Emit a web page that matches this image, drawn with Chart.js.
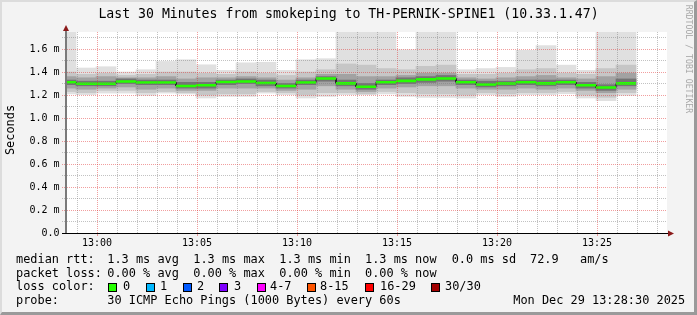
<!DOCTYPE html>
<html>
<head>
<meta charset="utf-8">
<title>smokeping TH-PERNIK-SPINE1</title>
<script src="https://cdn.jsdelivr.net/npm/chart.js@4.4.1/dist/chart.umd.min.js"></script>
<style>
  body { margin: 0; background: #f3f3f3; }
  #graph { position: relative; width: 697px; height: 315px; background: #f3f3f3; overflow: hidden;
           font-family: "DejaVu Sans Mono", monospace; color: #000; }
  #graph canvas { position: absolute; left: 0; top: 0; }
  .frame { position: absolute; left: 0; top: 0; width: 697px; height: 315px; box-sizing: border-box;
           border-style: solid; border-width: 2px 3px 3px 2px; border-color: #dcdcdc #9a9a9a #9a9a9a #dcdcdc; }
  .txt { position: absolute; white-space: pre; font-size: 11.9px; line-height: 14px; }
  .box { position: absolute; width: 9px; height: 9px; box-sizing: border-box; border: 1px solid #000; top: 282.5px; }
  #title { position: absolute; left: 0; top: 5.7px; width: 697px; text-align: center; font-size: 13.2px; line-height: 16px; white-space: pre; }
  #ylab { position: absolute; left: -30px; top: 123px; width: 80px; text-align: center; font-size: 11.9px; line-height: 14px; transform: rotate(-90deg); }
  #wm { position: absolute; left: 629px; top: 54px; width: 120px; text-align: center; font-size: 8.2px; line-height: 10px; color: #a8a8a8; transform: rotate(90deg); white-space: pre; }
</style>
</head>
<body>
<div id="graph">
  <canvas id="smoke" width="697" height="315"></canvas>
  <div id="title">Last 30 Minutes from smokeping to TH-PERNIK-SPINE1 (10.33.1.47)</div>
  <div id="ylab">Seconds</div>
  <div id="wm">RRDTOOL / TOBI OETIKER</div>

  <span class="txt" style="left:16px;top:252.2px">median rtt:</span>
  <span class="txt" style="left:107.3px;top:252.2px">1.3 ms avg</span>
  <span class="txt" style="left:193.3px;top:252.2px">1.3 ms max</span>
  <span class="txt" style="left:279.3px;top:252.2px">1.3 ms min</span>
  <span class="txt" style="left:365px;top:252.2px">1.3 ms now</span>
  <span class="txt" style="left:451.7px;top:252.2px">0.0 ms sd</span>
  <span class="txt" style="left:530px;top:252.2px">72.9</span>
  <span class="txt" style="left:580px;top:252.2px">am/s</span>

  <span class="txt" style="left:16px;top:265.8px">packet loss:</span>
  <span class="txt" style="left:107.3px;top:265.8px">0.00 % avg</span>
  <span class="txt" style="left:193.3px;top:265.8px">0.00 % max</span>
  <span class="txt" style="left:279.3px;top:265.8px">0.00 % min</span>
  <span class="txt" style="left:365px;top:265.8px">0.00 % now</span>

  <span class="txt" style="left:16px;top:279.4px">loss color:</span>
  <span class="box" style="left:108.3px;background:#26ff00"></span><span class="txt" style="left:123px;top:279.4px">0</span>
  <span class="box" style="left:145.7px;background:#00b8ff"></span><span class="txt" style="left:160px;top:279.4px">1</span>
  <span class="box" style="left:182.7px;background:#0059ff"></span><span class="txt" style="left:197px;top:279.4px">2</span>
  <span class="box" style="left:219.3px;background:#7e00ff"></span><span class="txt" style="left:234px;top:279.4px">3</span>
  <span class="box" style="left:256.7px;background:#ff00ff"></span><span class="txt" style="left:270px;top:279.4px">4-7</span>
  <span class="box" style="left:307.3px;background:#ff5500"></span><span class="txt" style="left:320px;top:279.4px">8-15</span>
  <span class="box" style="left:365px;background:#ff0000"></span><span class="txt" style="left:380px;top:279.4px">16-29</span>
  <span class="box" style="left:430.7px;background:#a10000"></span><span class="txt" style="left:445px;top:279.4px">30/30</span>

  <span class="txt" style="left:16px;top:293px">probe:</span>
  <span class="txt" style="left:107.3px;top:293px">30 ICMP Echo Pings (1000 Bytes) every 60s</span>
  <span class="txt" style="left:513.3px;top:293px">Mon Dec 29 13:28:30 2025</span>

  <div class="frame"></div>
</div>
<script>
// one sample per minute, values in ms
const medianRtt = [1.311, 1.298, 1.298, 1.317, 1.309, 1.309, 1.279, 1.285, 1.313, 1.318, 1.304, 1.279, 1.309, 1.344, 1.301,
                   1.272, 1.311, 1.323, 1.336, 1.343, 1.311, 1.292, 1.300, 1.311, 1.301, 1.311, 1.285, 1.265, 1.301];
const maxRtt = [1.80, 1.435, 1.446, 1.400, 1.420, 1.492, 1.507, 1.463, 1.414, 1.480, 1.485, 1.414, 1.507, 1.516, 1.80,
                1.80, 1.80, 1.594, 1.80, 1.80, 1.420, 1.430, 1.440, 1.588, 1.630, 1.460, 1.414, 1.80, 1.80];
const p90Rtt = [1.40, 1.38, 1.39, 1.37, 1.38, 1.40, 1.40, 1.39, 1.38, 1.40, 1.39, 1.37, 1.40, 1.42, 1.47,
                1.46, 1.43, 1.42, 1.45, 1.46, 1.38, 1.38, 1.39, 1.42, 1.43, 1.39, 1.38, 1.43, 1.46];
const p75Rtt = [1.36, 1.35, 1.36, 1.35, 1.35, 1.36, 1.34, 1.35, 1.35, 1.36, 1.35, 1.33, 1.35, 1.38, 1.38,
                1.36, 1.36, 1.37, 1.39, 1.39, 1.35, 1.34, 1.35, 1.36, 1.37, 1.35, 1.34, 1.36, 1.39];
const p60Rtt = [1.33, 1.32, 1.32, 1.34, 1.33, 1.33, 1.31, 1.31, 1.33, 1.34, 1.33, 1.30, 1.33, 1.36, 1.33,
                1.30, 1.33, 1.35, 1.36, 1.37, 1.33, 1.32, 1.32, 1.33, 1.33, 1.33, 1.31, 1.29, 1.34];
const p40Rtt = [1.29, 1.28, 1.28, 1.30, 1.29, 1.29, 1.26, 1.26, 1.29, 1.30, 1.28, 1.26, 1.29, 1.32, 1.28,
                1.25, 1.29, 1.30, 1.31, 1.32, 1.29, 1.27, 1.28, 1.29, 1.28, 1.29, 1.26, 1.24, 1.28];
const p25Rtt = [1.26, 1.25, 1.26, 1.27, 1.25, 1.26, 1.24, 1.24, 1.26, 1.26, 1.26, 1.24, 1.25, 1.28, 1.25,
                1.23, 1.26, 1.27, 1.28, 1.28, 1.26, 1.25, 1.25, 1.26, 1.25, 1.26, 1.24, 1.22, 1.25];
const p10Rtt = [1.23, 1.22, 1.24, 1.24, 1.22, 1.23, 1.22, 1.20, 1.21, 1.21, 1.23, 1.22, 1.20, 1.22, 1.22,
                1.21, 1.23, 1.22, 1.21, 1.21, 1.20, 1.22, 1.21, 1.22, 1.22, 1.23, 1.20, 1.18, 1.22];
const minRtt = [1.210, 1.203, 1.217, 1.217, 1.197, 1.217, 1.209, 1.174, 1.188, 1.188, 1.217, 1.203, 1.174, 1.188, 1.203,
                1.203, 1.209, 1.188, 1.180, 1.180, 1.174, 1.203, 1.188, 1.203, 1.203, 1.211, 1.174, 1.150, 1.197];

const yTicks = [0, 0.1, 0.2, 0.3, 0.4, 0.5, 0.6, 0.7, 0.8, 0.9, 1.0, 1.1, 1.2, 1.3, 1.4, 1.5, 1.6, 1.7];

// x is minutes after 12:58:30 (left edge of the graph); first step ends at 12:58:57
const firstStepEnd = 0.45;
const stepEnd = medianRtt.map((_, i) => firstStepEnd + i);
const minuteTicks = [];
for (let m = 0; m < 30; m++) minuteTicks.push(m + 0.5);   // 12:59 ... 13:28

const majorGrid = 'rgba(225,40,40,0.45)';
const minorGrid = 'rgba(120,120,120,0.45)';

function isMajorX(v) { return Math.round(v - 0.5) % 5 === 1; }
function isMajorY(v) { return Math.round(v * 10) % 2 === 0; }
function xLabel(v) {
  const t = 12 * 60 + 59 + Math.round(v - 0.5);
  if (t % 5) return '';
  return String(Math.floor(t / 60)).padStart(2, '0') + ':' + String(t % 60).padStart(2, '0');
}

function smoke(lo, hi, color, order) {
  return {
    type: 'bar', order: order, backgroundColor: color, borderWidth: 0,
    grouped: false, categoryPercentage: 1, barPercentage: 1,
    data: stepEnd.map((x, i) => ({ x: x - 0.5, y: [lo[i], hi[i]] }))
  };
}
function steps(vals) {
  const pts = [];
  vals.forEach((v, i) => { pts.push({ x: stepEnd[i] - 1, y: v }, { x: stepEnd[i], y: v }); });
  return pts;
}
function pieces(vals) {
  const pts = [];
  vals.forEach((v, i) => { pts.push({ x: stepEnd[i] - 1, y: v }, { x: stepEnd[i], y: v }, { x: stepEnd[i], y: null }); });
  return pts;
}

const plotBackground = {
  id: 'plotBackground',
  beforeDraw(chart) {
    const { ctx, chartArea: a } = chart;
    ctx.save();
    ctx.fillStyle = '#ffffff';
    ctx.fillRect(a.left, a.top, a.right - a.left, a.bottom - a.top);
    ctx.restore();
  }
};

const axisArrows = {
  id: 'axisArrows',
  afterDraw(chart) {
    const { ctx, chartArea: a } = chart;
    ctx.save();
    ctx.lineWidth = 2;
    ctx.strokeStyle = '#7a7a7a';
    ctx.beginPath(); ctx.moveTo(a.left - 1, a.bottom); ctx.lineTo(a.left - 1, a.top - 3); ctx.stroke();
    ctx.lineWidth = 1;
    ctx.strokeStyle = '#000';
    ctx.beginPath(); ctx.moveTo(a.left - 5, a.bottom + 0.5); ctx.lineTo(a.right + 3, a.bottom + 0.5); ctx.stroke();
    ctx.fillStyle = '#8b1a1a';
    ctx.beginPath();
    ctx.moveTo(a.left - 4, a.top - 1); ctx.lineTo(a.left + 2, a.top - 1); ctx.lineTo(a.left - 1, a.top - 7);
    ctx.closePath(); ctx.fill();
    ctx.beginPath();
    ctx.moveTo(a.right + 1, a.bottom - 2.5); ctx.lineTo(a.right + 1, a.bottom + 3.5); ctx.lineTo(a.right + 7, a.bottom + 0.5);
    ctx.closePath(); ctx.fill();
    ctx.restore();
  }
};

new Chart(document.getElementById('smoke'), {
  type: 'bar',
  data: {
    datasets: [
      smoke(minRtt, maxRtt, '#e0e0e0', 10),
      smoke(p10Rtt, p90Rtt, '#c6c6c6', 9),
      smoke(p25Rtt, p75Rtt, '#a2a2a2', 8),
      smoke(p40Rtt, p60Rtt, '#747474', 7),
      { type: 'line', order: 2, data: steps(medianRtt), borderColor: '#1a1a1a', borderWidth: 1,
        pointRadius: 0, fill: false, tension: 0 },
      { type: 'line', order: 1, data: pieces(medianRtt), borderColor: '#26ff00', borderWidth: 2.6,
        borderCapStyle: 'butt', pointRadius: 0, fill: false, spanGaps: false, tension: 0 }
    ]
  },
  options: {
    responsive: false,
    animation: false,
    events: [],
    layout: { padding: { left: 0, right: 30, top: 32, bottom: 0 } },
    plugins: { legend: { display: false }, tooltip: { enabled: false }, title: { display: false } },
    scales: {
      x: {
        type: 'linear', min: 0, max: 30, offset: false,
        afterBuildTicks: s => { s.ticks = minuteTicks.map(v => ({ value: v })); },
        afterFit: s => { s.height = 82; },
        grid: {
          offset: false, z: 1,
          color: c => (c.tick && isMajorX(c.tick.value)) ? majorGrid : minorGrid,
          drawTicks: true, tickLength: 3,
          tickColor: c => (c.tick && isMajorX(c.tick.value)) ? majorGrid : 'rgba(0,0,0,0)'
        },
        border: { display: false, dash: [1, 1] },
        ticks: { autoSkip: false, maxRotation: 0, padding: 1, color: '#000',
                 font: { family: 'DejaVu Sans Mono', size: 10 }, callback: v => xLabel(v) }
      },
      y: {
        type: 'linear', min: 0, max: 1.748,
        afterBuildTicks: s => { s.ticks = yTicks.map(v => ({ value: v })); },
        afterFit: s => { s.width = 67; },
        grid: {
          z: 1,
          color: c => (c.tick && c.tick.value > 0 && isMajorY(c.tick.value)) ? majorGrid : minorGrid,
          tickColor: c => (c.tick && isMajorY(c.tick.value)) ? majorGrid : minorGrid,
          drawTicks: true, tickLength: 5, tickBorderDash: [1, 1]
        },
        border: { display: false, dash: [1, 1] },
        ticks: {
          autoSkip: false, padding: 2.5, color: '#000', font: { family: 'DejaVu Sans Mono', size: 10 },
          callback: v => {
            const k = Math.round(v * 10);
            if (k % 2) return '';
            return k === 0 ? '0.0' : (k / 10).toFixed(1) + ' m';
          }
        }
      }
    }
  },
  plugins: [plotBackground, axisArrows]
});
</script>
</body>
</html>
